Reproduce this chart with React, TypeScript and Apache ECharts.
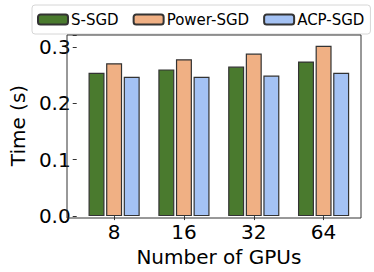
import React, { useEffect, useRef } from "react";
import * as echarts from "echarts";

const categories = ["8", "16", "32", "64"];
const seriesNames = ["S-SGD", "Power-SGD", "ACP-SGD"];
const sSgd = [0.254, 0.26, 0.265, 0.274];
const powerSgd = [0.271, 0.278, 0.288, 0.302];
const acpSgd = [0.247, 0.247, 0.249, 0.254];
const colors = ["#4a7a2e", "#f0b084", "#a4c2f4"];
const FONT = "DejaVu Sans";

export default function App() {
  const ref = useRef<HTMLDivElement>(null);
  useEffect(() => {
    if (!ref.current) return;
    const chart = echarts.init(ref.current, null, { renderer: "svg" });
    const values = [sSgd, powerSgd, acpSgd];
    chart.setOption({
      animation: false,
      backgroundColor: "#ffffff",
      textStyle: { fontFamily: FONT },
      legend: {
        left: 32,
        top: 5,
        padding: [7, 6, 7, 5],
        borderColor: "#d6d6d6",
        borderWidth: 1,
        borderRadius: 3,
        itemWidth: 30,
        itemHeight: 10,
        itemGap: 14,
        textStyle: { fontSize: 15, fontFamily: FONT, color: "#000", padding: [0, 0, 0, -2] },
        data: seriesNames,
      },
      grid: { left: 69.5, top: 35, width: 289, height: 183, containLabel: false },
      xAxis: {
        type: "category",
        data: categories,
        boundaryGap: true,
        axisLine: { show: false },
        axisTick: { show: true, alignWithLabel: true, length: 4, lineStyle: { color: "#333" } },
        axisLabel: { fontSize: 20, color: "#000", fontFamily: FONT, margin: 6 },
        name: "Number of GPUs",
        nameLocation: "middle",
        nameGap: 24,
        nameTextStyle: { fontSize: 20, color: "#000", fontFamily: FONT },
      },
      yAxis: {
        type: "value",
        min: 0,
        max: 0.321,
        interval: 0.1,
        offset: 2.5,
        splitLine: { show: false },
        axisLine: { show: false },
        axisTick: { show: true, length: 4, lineStyle: { color: "#333" } },
        axisLabel: {
          fontSize: 20,
          color: "#000",
          fontFamily: FONT,
          margin: 6,
          formatter: (v: number) => (v > 0.3205 ? "" : v.toFixed(1)),
        },
        name: "Time (s)",
        nameLocation: "middle",
        nameGap: 44,
        nameRotate: 90,
        nameTextStyle: { fontSize: 20, color: "#000", fontFamily: FONT },
      },
      graphic: [
        {
          type: "rect",
          shape: { x: 67, y: 35, width: 294, height: 183 },
          style: { fill: "none", stroke: "#333", lineWidth: 1 },
          z: 10,
        },
      ],
      series: seriesNames.map((name, i) => ({
        name,
        type: "bar",
        data: values[i],
        barWidth: 16,
        barGap: "10%",
        itemStyle: { color: colors[i], borderColor: "#333", borderWidth: 1.2 },
      })),
    });
    return () => chart.dispose();
  }, []);
  return (
    <div
      ref={ref}
      style={{ position: "fixed", left: 0, top: 0, width: 374, height: 272 }}
    />
  );
}
